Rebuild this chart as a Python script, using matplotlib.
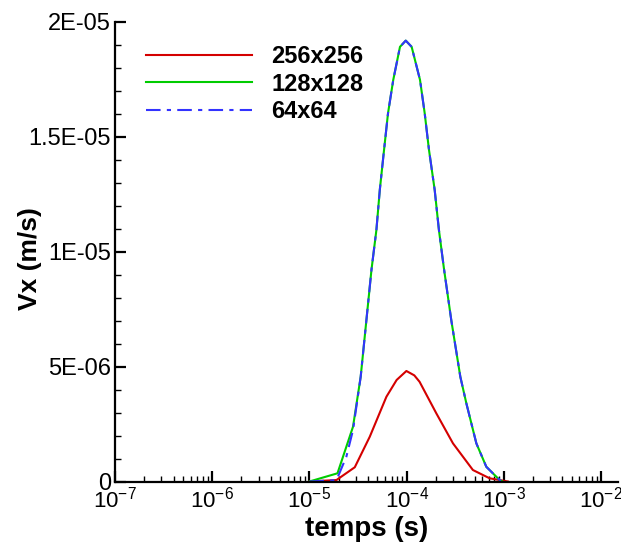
import matplotlib
matplotlib.use('Agg')
import matplotlib.pyplot as plt
import matplotlib.ticker as mticker
import numpy as np

plt.rcParams['font.family'] = 'Liberation Sans'
plt.rcParams['mathtext.fontset'] = 'custom'
plt.rcParams['mathtext.rm'] = 'Liberation Sans'
plt.rcParams['mathtext.it'] = 'Liberation Sans:italic'
plt.rcParams['mathtext.bf'] = 'Liberation Sans:bold'

# 256x256
t_256 = [1.0e-5, 1.9e-5, 2.93e-5, 4.18e-5, 6.2e-5, 7.9e-5, 9.95e-5, 1.2e-4, 1.36e-4,
         2.02e-4, 3.0e-4, 4.81e-4, 7.14e-4, 1.1e-3]
v_256 = [0.0, 6.5e-8, 6.2e-7, 1.95e-6, 3.69e-6, 4.42e-6, 4.81e-6, 4.62e-6, 4.34e-6,
         2.97e-6, 1.66e-6, 5.0e-7, 1.4e-7, 0.0]

# 128x128
t_128 = [1.0e-5, 1.945e-5, 2.81e-5, 3.37e-5, 3.86e-5, 4.35e-5, 4.89e-5, 5.3e-5,
         5.86e-5, 6.44e-5, 7.29e-5, 8.55e-5, 9.8e-5, 1.127e-4, 1.374e-4, 1.535e-4,
         1.7e-4, 1.945e-4, 2.15e-4, 2.42e-4, 2.88e-4, 3.57e-4, 4.12e-4, 5.22e-4,
         6.61e-4, 9.06e-4, 9.7e-4]
v_128 = [0.0, 3.57e-7, 2.385e-6, 4.56e-6, 7.03e-6, 9.21e-6, 1.095e-5, 1.269e-5,
         1.443e-5, 1.603e-5, 1.748e-5, 1.892e-5, 1.919e-5, 1.892e-5, 1.748e-5, 1.603e-5,
         1.443e-5, 1.269e-5, 1.095e-5, 9.28e-6, 7.03e-6, 4.56e-6, 3.4e-6, 1.66e-6,
         6.4e-7, 6.5e-8, 0.0]

# 64x64
t_64 = [1.0e-5, 1.9e-5, 2.4e-5, 2.81e-5, 3.37e-5, 3.86e-5, 4.35e-5, 4.89e-5, 5.3e-5,
        5.86e-5, 6.44e-5, 7.29e-5, 8.55e-5, 9.8e-5, 1.127e-4, 1.374e-4, 1.535e-4,
        1.7e-4, 1.945e-4, 2.15e-4, 2.42e-4, 2.88e-4, 3.57e-4, 4.12e-4, 5.22e-4,
        6.61e-4, 9.06e-4, 9.9e-4]
v_64 = [0.0, 6.0e-8, 1.08e-6, 2.24e-6, 4.56e-6, 7.03e-6, 9.21e-6, 1.095e-5, 1.269e-5,
        1.443e-5, 1.603e-5, 1.748e-5, 1.892e-5, 1.919e-5, 1.892e-5, 1.748e-5, 1.603e-5,
        1.443e-5, 1.269e-5, 1.095e-5, 9.28e-6, 7.03e-6, 4.56e-6, 3.4e-6, 1.66e-6,
        6.4e-7, 6.5e-8, 0.0]

y_ticks = [0, 5e-6, 1e-5, 1.5e-5, 2e-5]
y_tick_labels = ['0', '5E-06', '1E-05', '1.5E-05', '2E-05']

fig = plt.figure(figsize=(6.21, 5.44), dpi=100)
ax = fig.add_axes([115 / 621, 62.5 / 544, 503 / 621, 459.5 / 544])

ax.plot(t_256, v_256, color='#d40000', linewidth=1.5, label='256x256')
ax.plot(t_128, v_128, color='#00cc00', linewidth=1.5, label='128x128')
ax.plot(t_64, v_64, color='#3333ff', linewidth=1.5, linestyle=(0, (7, 3, 2, 3)), label='64x64')

ax.set_xscale('log')
ax.set_xlim(1e-7, 10 ** (-2 + 17 / 97.2))
ax.set_ylim(0, 2e-5)

ax.xaxis.set_major_locator(mticker.FixedLocator([1e-7, 1e-6, 1e-5, 1e-4, 1e-3, 1e-2]))
ax.xaxis.set_major_formatter(mticker.LogFormatterSciNotation())
ax.xaxis.set_minor_locator(mticker.LogLocator(base=10, subs=np.arange(2, 10), numticks=20))
ax.xaxis.set_minor_formatter(mticker.NullFormatter())
ax.set_yticks(y_ticks)
ax.set_yticklabels(y_tick_labels)
ax.yaxis.set_minor_locator(mticker.MultipleLocator(1e-6))

for s in ['top', 'right']:
    ax.spines[s].set_visible(False)
for s in ['left', 'bottom']:
    ax.spines[s].set_linewidth(1.6)

ax.tick_params(which='major', direction='in', length=8, width=1.6, labelsize=17, pad=3)
ax.tick_params(axis='x', which='major', labelsize=16, pad=4)
ax.tick_params(which='minor', direction='in', length=4.5, width=1.0)

ax.set_xlabel('temps (s)', fontsize=20, fontweight='bold', labelpad=2)
ax.set_ylabel('Vx (m/s)', fontsize=19, fontweight='bold')
ax.yaxis.set_label_coords(-0.145, 0.485)

leg = ax.legend(loc='upper left', bbox_to_anchor=(146 / 621, 1 - 45 / 544),
                bbox_transform=fig.transFigure, frameon=False,
                prop={'weight': 'bold', 'size': 17}, handlelength=4.5,
                handletextpad=0.8, labelspacing=0.2, borderpad=0, borderaxespad=0)

plt.savefig('out.png', dpi=100)
plt.close()
